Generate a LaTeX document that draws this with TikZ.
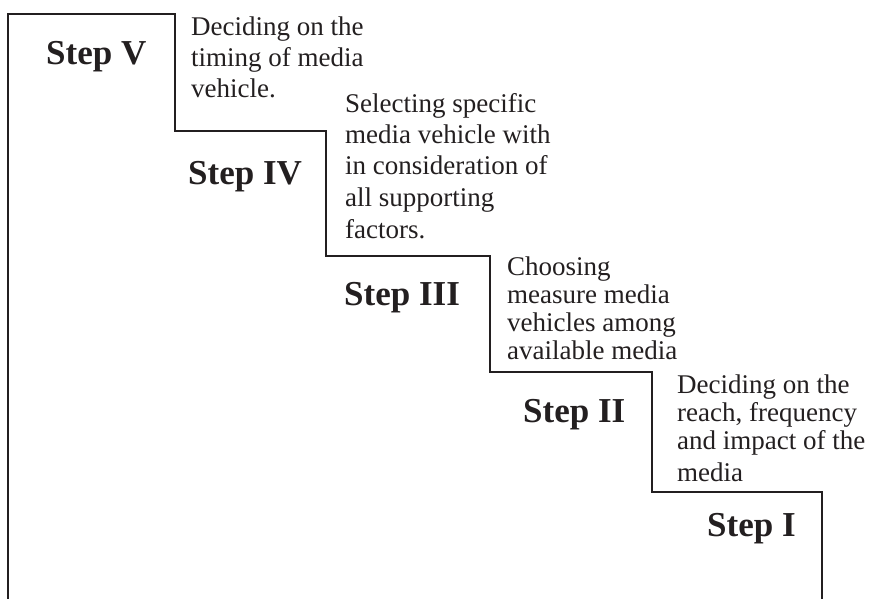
\documentclass[tikz,border=0pt]{standalone}
\usepackage{fontspec}
\setmainfont{Liberation Serif}
\definecolor{ink}{RGB}{35,31,32}
\begin{document}
\begin{tikzpicture}[x=1pt,y=-1pt,
  stair/.style={draw=ink,line width=2.2pt,line join=miter},
  steplabel/.style={text=ink,inner sep=0pt,anchor=base west,
    font=\bfseries\fontsize{35}{40}\selectfont},
  stepnote/.style={text=ink,inner sep=0pt,anchor=base west,align=left,
    font=\fontsize{27}{31}\selectfont}]
\useasboundingbox (0,0) rectangle (871,599);

% staircase outline
\draw[stair] (8,601) -- (8,14) -- (175,14) -- (175,131) -- (326,131)
  -- (326,256) -- (490,256) -- (490,372) -- (652,372) -- (652,492)
  -- (822,492) -- (822,601);

% step labels
\node[steplabel] (s5) at (46,65)  {Step V};
\node[steplabel] (s4) at (188,185) {Step IV};
\node[steplabel] (s3) at (344,305) {Step III};
\node[steplabel] (s2) at (523,422) {Step II};
\node[steplabel] (s1) at (707,536) {Step I};

% descriptions (anchored at the baseline of their last line)
\node[stepnote] (n5) at (191,98) {Deciding on the\\timing of media\\vehicle.};
\node[stepnote,font=\fontsize{27}{31.5}\selectfont] (n4) at (345,238)
  {Selecting specific\\media vehicle with\\in consideration of\\all supporting\\factors.};
\node[stepnote,font=\fontsize{27}{28}\selectfont] (n3) at (507,359)
  {Choosing\\measure media\\vehicles among\\available media};
\node[stepnote,font=\fontsize{27}{28}\selectfont] (n2) at (677,481)
  {Deciding on the\\reach, frequency\\and impact of the\\[4pt]media};
\end{tikzpicture}
\end{document}
